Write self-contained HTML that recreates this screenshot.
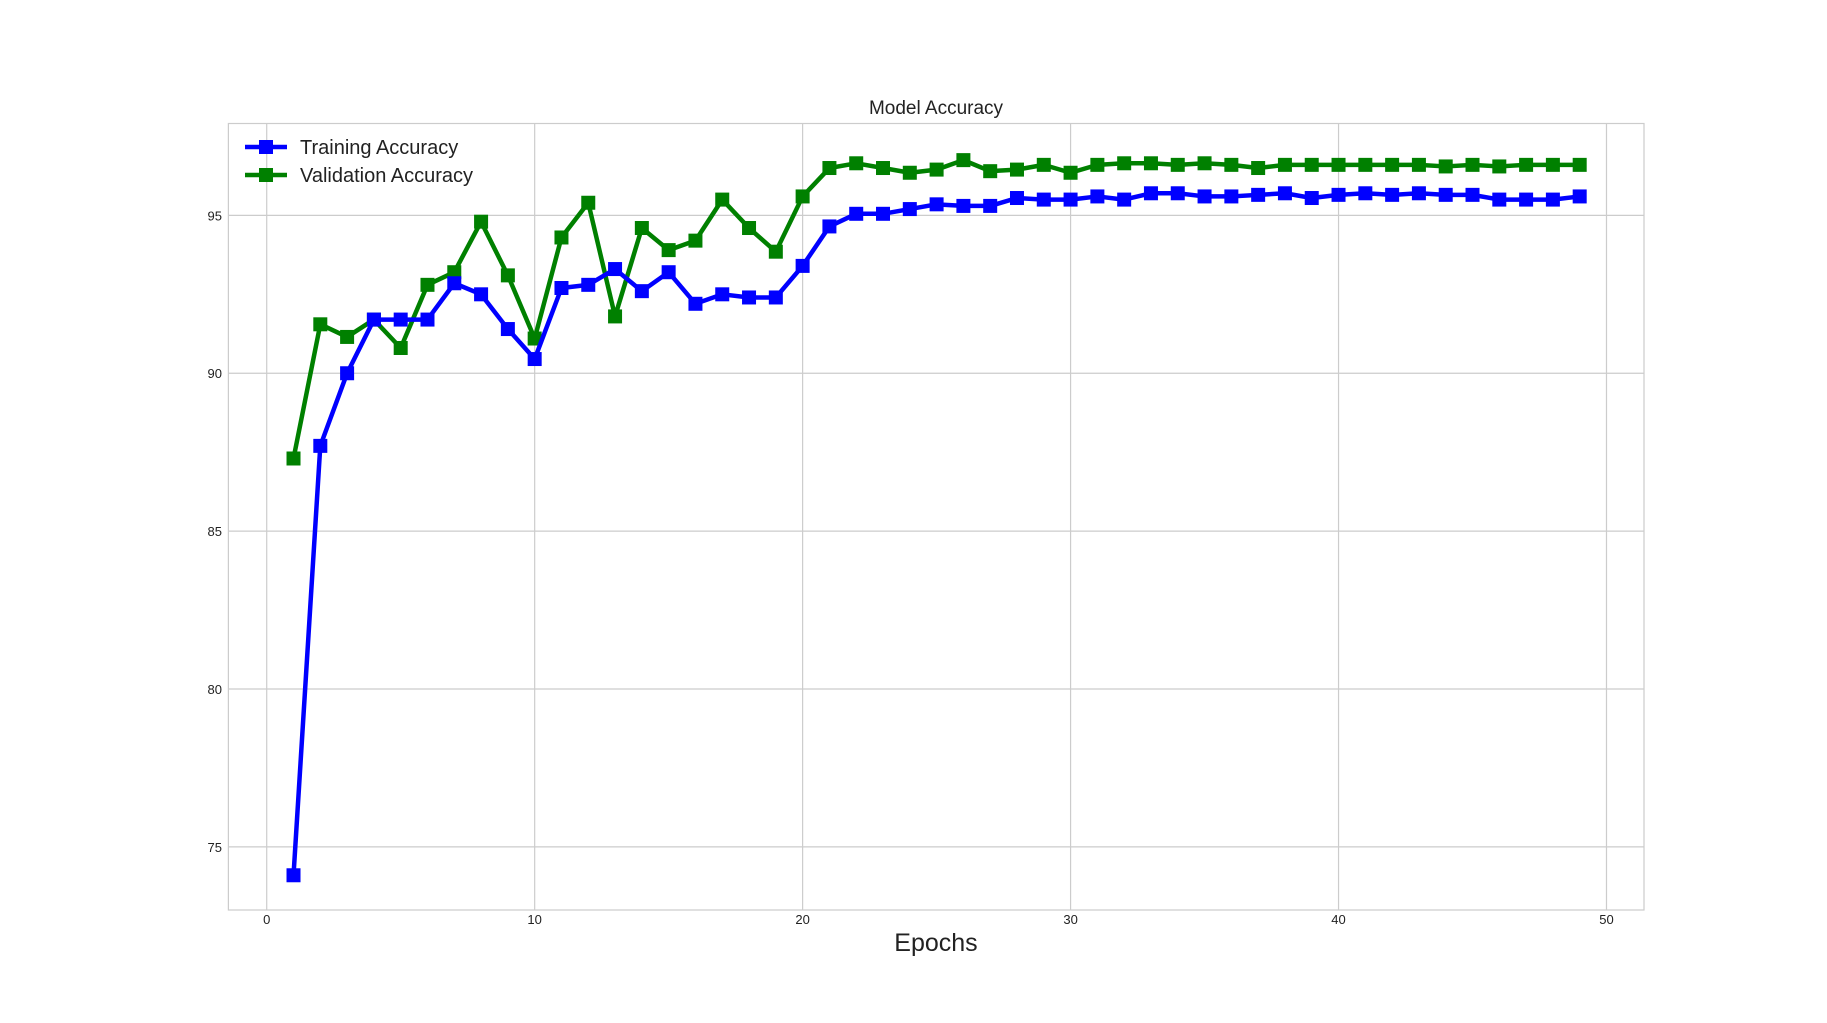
<!DOCTYPE html>
<html><head><meta charset="utf-8"><style>
html,body{margin:0;padding:0;background:#fff;}
svg{display:block;font-family:"Liberation Sans",Arial,sans-serif;}
</style></head><body>
<svg id="chart" width="1827" height="1023" viewBox="0 0 1827 1023">
<g id="grid"></g>
<g id="ticks"></g>
<g id="series"></g>
<rect x="228.4" y="123.5" width="1415.6" height="786.5" fill="none" stroke="#cccccc" stroke-width="1.2"/>
<text x="936" y="114" text-anchor="middle" font-size="19" fill="#222">Model Accuracy</text>
<text x="936" y="951" text-anchor="middle" font-size="25" fill="#222">Epochs</text>
<g>
<g>
<line x1="245" y1="147" x2="287" y2="147" stroke="#0000ff" stroke-width="4.5"/>
<rect x="259" y="140" width="14" height="14" fill="#0000ff"/>
<text x="300" y="154" font-size="20" fill="#222">Training Accuracy</text></g>
<g>
<line x1="245" y1="175" x2="287" y2="175" stroke="#008000" stroke-width="4.5"/>
<rect x="259" y="168" width="14" height="14" fill="#008000"/>
<text x="300" y="182" font-size="20" fill="#222">Validation Accuracy</text></g>
</g>
</svg>
<script>
const epochs = Array.from({length:49},(_,i)=>i+1);
const trainAcc = [74.1,87.7,90.0,91.7,91.7,91.7,92.85,92.5,91.4,90.45,92.7,92.8,93.3,92.6,93.2,92.2,92.5,92.4,92.4,93.4,94.65,95.05,95.05,95.2,95.35,95.3,95.3,95.55,95.5,95.5,95.6,95.5,95.7,95.7,95.6,95.6,95.65,95.7,95.55,95.65,95.7,95.65,95.7,95.65,95.65,95.5,95.5,95.5,95.6];
const valAcc = [87.3,91.55,91.15,91.7,90.8,92.8,93.2,94.8,93.1,91.1,94.3,95.4,91.8,94.6,93.9,94.2,95.5,94.6,93.85,95.6,96.5,96.65,96.5,96.35,96.45,96.75,96.4,96.45,96.6,96.35,96.6,96.65,96.65,96.6,96.65,96.6,96.5,96.6,96.6,96.6,96.6,96.6,96.6,96.55,96.6,96.55,96.6,96.6,96.6];
const xTicks = [0,10,20,30,40,50];
const yTicks = [75,80,85,90,95];

const NS='http://www.w3.org/2000/svg';
const L=228.4,R=1644,T=123.5,B=910;
const xMin=-1.43,xMax=51.4,yMin=73.0,yMax=97.91;
const sx=v=>L+(v-xMin)/(xMax-xMin)*(R-L);
const sy=v=>B-(v-yMin)/(yMax-yMin)*(B-T);
function mk(tag,attrs,parent){const e=document.createElementNS(NS,tag);for(const k in attrs)e.setAttribute(k,attrs[k]);parent.appendChild(e);return e;}
const grid=document.getElementById('grid'),ticks=document.getElementById('ticks'),series=document.getElementById('series');
xTicks.forEach(t=>{
  const g=mk('line',{x1:sx(t),x2:sx(t),y1:T,y2:B,stroke:'#cccccc','stroke-width':1.2},grid);
  
  
  const tx=mk('text',{x:sx(t),y:924,'text-anchor':'middle','font-size':13,fill:'#222'},ticks);
  tx.textContent=t;
  
  
});
yTicks.forEach(t=>{
  const g=mk('line',{x1:L,x2:R,y1:sy(t),y2:sy(t),stroke:'#cccccc','stroke-width':1.2},grid);
  
  
  const tx=mk('text',{x:222,y:sy(t)+5,'text-anchor':'end','font-size':13,fill:'#222'},ticks);
  tx.textContent=t;
  
  
});
function draw(vals,color,name){
  const g=mk('g',{},series);
  
  
  const pts=vals.map((v,i)=>sx(epochs[i])+','+sy(v)).join(' ');
  const pl=mk('polyline',{points:pts,fill:'none',stroke:color,'stroke-width':4.5,'stroke-linejoin':'round'},g);
  
  
  vals.forEach((v,i)=>{
    const r=mk('rect',{x:sx(epochs[i])-7,y:sy(v)-7,width:14,height:14,fill:color},g);
    
    
  });
}
draw(valAcc,'#008000','validation');
draw(trainAcc,'#0000ff','training');
</script>
</body></html>
